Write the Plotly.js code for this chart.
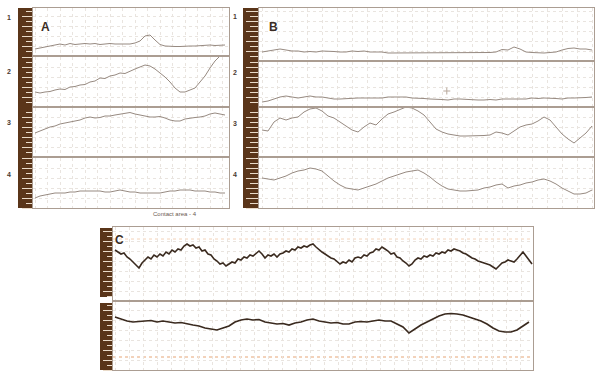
<!DOCTYPE html>
<html>
<head>
<meta charset="utf-8">
<script src="https://cdn.plot.ly/plotly-3.0.1.min.js"></script>
<style>html,body{margin:0;padding:0;background:#fff;}#chart{width:595px;height:372px;}</style>
</head>
<body>
<div id="chart"></div>
<script>
// ---------------- data (signal amplitudes) ----------------
const panelLabels = ["A", "B", "C"];
const rowLabels = ["1", "2", "3", "4"];
const footnote = "Contact area - 4";

// Panel A: channels 1-4
const a1 = [7,8,9,9.5,11,12,11,12.5,11.5,12,12.5,12,12.5,11.5,12,12.5,12,12,12.5,12,13,15,20,21,16,11.5,10,9.5,9.5,9.5,10,10,10,10.5,10.5,11,10.5,11,11];
const a2 = [15,14,15,15.5,17,18,17.5,20,20.5,22,22.5,25,26,29,28.5,31,32,34,33.5,36,38,40,42,41,38,34,30,25,19,15,15,17,19,25,31,39,46,51,54];
const a3 = [24,26,28,30,31,33,34,35,36,37,39,40,39,39.5,41,41,42,43,44,44.5,43,42,41.5,40,40,40.5,39,37,36,36,38,39,39.5,40,41,43,44,43,42];
const a4 = [10,12,13,14,15,15,15,16,16,17,17,17,17,17,16,16,17,18,17,16,16,15,15,15,15,15,16,17,17,18,18,18,17,17,17,16,16,15,15];

// Panel B: channels 1-4
const b1 = [9,10,11,12,11,10,10,9,9.5,9,10,10,9.5,9,9,10,9.5,10,9,9,9,8,8,8,8,8,8.5,8,8,8,8,8,8.5,8,8,8,8,8.5,8.5,9,11.5,11,14,12,9,8.5,8,8,8.5,9,11,12.5,13,12,12,11];
const b2 = [5,6,8,10,11,10,9,10,11,10,10,9,8,8,8.5,9,9,9,9,8.5,9,10,10,10.5,10,9,9,8.5,8,8,7.5,7,8,8,7.5,7,7,7,7.5,7,8,8,8,8.5,8,9,8.5,9,9,8.5,8,9,9,9,9.5,10];
const b2Mark = {i: [30.8], v: [16]};
const b3 = [27,26,35,39,37,39,40,45,48,49,46,41,39,35,31,27,25,30,34,32,38,43,45,48,50,49,46,42,35,28,25,23,22,21,21,21,21,21.5,22,25,24,22,26,30,32,33,36,40,37,30,23,18,14,19,24,31];
const b4 = [30,29,28,30,32,35,37,38,40,39,37,32,27,23,20,19,18,20,22,24,27,30,32,34,36,37,38,35,31,26,22,19,18,17,17,17.5,18,20,21,23,24,20,22,23,25,26,28,29,27,24,20,17,14,14,15,18];

// Panel C: two channels
const c1 = [51,49,47,48,44,42,39,37,33,38, 41,44,42,46,44,47,45,49,47,51, 49,52,51,55,57,55,56,53,54,50,
            51,47,46,42,40,37,38,35,37,39, 38,42,41,44,43,46,45,48,50,47, 43,46,45,47,44,47,48,50,49,52,
            51,54,53,55,54,56,57,54,51,49, 47,45,43,42,39,37,39,38,41,39, 43,44,43,46,45,48,49,52,51,54,
            52,50,47,48,44,43,40,38,35,37, 41,43,42,45,44,46,45,48,47,49, 48,51,50,52,51,50,48,47,45,43,
            42,40,39,38,37,36,34,32,35,38, 39,41,40,39,42,46,49,45,41,37];
const c2 = [53,51,49,48,48.5,49,49.5,48,49,48, 47,47.5,46,45,44,42,41,40,42,44, 48,50,51,50,50.5,48,47,46,46.5,45,
            47,48,50,51,49,48,47,47.5,46,46, 48,48.5,48,49,50,49,49,46,43,37, 41,45,48,51,54,56,56.5,56,55,53,
            51,49,46,42,39,38,38,40,44,48];
const cRef = [62, 13]; // reference levels (dotted) in C channels

// ---------------- layout helpers (positions in px, styles) ----------------
const W = 595, H = 372;
const fx = v => v / W;
const fy = v => 1 - v / H;

const rows = [
  // panel A
  {y: a1, x0: 33, x1: 229, top: 8,   bot: 55,  yr: [1, 48], xr: [-0.4, 38.8],  gd: 2.5, col: '#978a81', w: 1, tl: 10},
  {y: a2, x0: 33, x1: 229, top: 57,  bot: 106, yr: [1, 50], xr: [-0.4, 38.8],  gd: 2.5, col: '#978a81', w: 1, tl: 10},
  {y: a3, x0: 33, x1: 229, top: 108, bot: 156, yr: [1, 49], xr: [-0.4, 38.8],  gd: 2.5, col: '#978a81', w: 1, tl: 10},
  {y: a4, x0: 33, x1: 229, top: 158, bot: 208, yr: [0, 50], xr: [-0.4, 38.8],  gd: 2.5, col: '#978a81', w: 1, tl: 10},
  // panel B
  {y: b1, x0: 259, x1: 594, top: 8,   bot: 60,  yr: [1, 53], xr: [-0.5, 55.33], gd: 2.5, col: '#978a81', w: 1, tl: 12},
  {y: b2, x0: 259, x1: 594, top: 62,  bot: 106, yr: [1, 45], xr: [-0.5, 55.33], gd: 2.5, col: '#978a81', w: 1, tl: 12},
  {y: b3, x0: 259, x1: 594, top: 108, bot: 156, yr: [1, 49], xr: [-0.5, 55.33], gd: 2.5, col: '#978a81', w: 1, tl: 12},
  {y: b4, x0: 259, x1: 594, top: 158, bot: 208, yr: [0, 50], xr: [-0.5, 55.33], gd: 2.5, col: '#978a81', w: 1, tl: 12},
  // panel C
  {y: c1, x0: 113, x1: 533, top: 227, bot: 300, yr: [1, 74], xr: [-0.667, 139.33], gd: 14/3, col: '#3a2a1f', w: 1.6, tl: 9},
  {y: c2, x0: 113, x1: 533, top: 302, bot: 370, yr: [0, 68], xr: [-0.333, 69.67],  gd: 14/6, col: '#3a2a1f', w: 1.7, tl: 9}
];

const frame = '#ab9d92', grid = '#e9e4df', ladder = '#eadbc9';
const data = [];
const layout = {
  width: W, height: H, autosize: false,
  margin: {l: 0, r: 0, t: 0, b: 0, pad: 0},
  paper_bgcolor: '#ffffff', plot_bgcolor: 'rgba(0,0,0,0)',
  showlegend: false, shapes: [], annotations: []
};

rows.forEach((r, k) => {
  const n = k + 1, s = n === 1 ? '' : String(n);
  data.push({type: 'scatter', mode: 'lines', y: r.y, xaxis: 'x' + s, yaxis: 'y' + s,
             line: {color: r.col, width: r.w, shape: 'linear'}, hoverinfo: 'skip'});
  layout['xaxis' + s] = {
    domain: [fx(r.x0), fx(r.x1)], range: r.xr, anchor: 'y' + s,
    showline: true, mirror: true, linecolor: frame, linewidth: 1,
    showgrid: true, gridcolor: grid, griddash: 'dot', gridwidth: 1, dtick: r.gd, tick0: 0,
    zeroline: false, showticklabels: false, ticks: '', fixedrange: true
  };
  layout['yaxis' + s] = {
    domain: [fy(r.bot), fy(r.top)], range: r.yr, anchor: 'x' + s,
    showline: true, mirror: true, linecolor: frame, linewidth: 1,
    showgrid: true, gridcolor: grid, griddash: 'dot', gridwidth: 1, dtick: 10, tick0: 0,
    zeroline: false, showticklabels: false,
    ticks: 'outside', ticklen: r.tl, tickcolor: ladder, tickwidth: 1,
    minor: {dtick: 5, ticks: 'outside', ticklen: r.tl - 4, tickcolor: ladder, tickwidth: 1, showgrid: false},
    fixedrange: true
  };
});

// marker in B channel 2
data.push({type: 'scatter', mode: 'markers', x: b2Mark.i, y: b2Mark.v, xaxis: 'x6', yaxis: 'y6',
           marker: {symbol: 'cross-thin', size: 5, line: {color: '#b8a89c', width: 1}}, hoverinfo: 'skip'});

// scale strips
const strip = '#5a3519';
[[18, 32, 8, 208], [243, 259, 8, 208], [100, 113, 228, 297], [100, 113, 303, 370]].forEach(b => {
  layout.shapes.push({type: 'rect', xref: 'paper', yref: 'paper', layer: 'below',
    x0: fx(b[0]), x1: fx(b[1]), y0: fy(b[3]), y1: fy(b[2]), fillcolor: strip, line: {width: 0}});
});
// reference levels in C
layout.shapes.push({type: 'line', xref: 'x9 domain', yref: 'y9', x0: 0, x1: 1, y0: cRef[0], y1: cRef[0],
                    line: {color: '#f4d2b8', width: 1, dash: 'dot'}, layer: 'below'});
layout.shapes.push({type: 'line', xref: 'x10 domain', yref: 'y10', x0: 0, x1: 1, y0: cRef[1], y1: cRef[1],
                    line: {color: '#e6a577', width: 1, dash: 'dot'}, layer: 'below'});

// text
const txt = (t, x, y, size, color, bold) => layout.annotations.push({
  text: bold ? '<b>' + t + '</b>' : t, xref: 'paper', yref: 'paper', x: fx(x), y: fy(y),
  xanchor: 'center', yanchor: 'middle', showarrow: false,
  font: {family: 'Liberation Sans, Arial, sans-serif', size: size, color: color}
});
txt(panelLabels[0], 45, 27, 12, '#3a2c24', true);
txt(panelLabels[1], 273, 27, 12, '#3a2c24', true);
txt(panelLabels[2], 119, 240, 12, '#3a2c24', true);
const aRowY = [18, 71, 123, 174], bRowY = [17, 72, 124, 174];
rowLabels.forEach((t, i) => { txt(t, 9, aRowY[i], 7, '#4a3a30', true); txt(t, 235, bRowY[i], 7, '#4a3a30', true); });
txt(footnote, 175, 214, 6, '#6a5a50', false);

Plotly.newPlot('chart', data, layout, {displayModeBar: false, staticPlot: true});
</script>
</body>
</html>
